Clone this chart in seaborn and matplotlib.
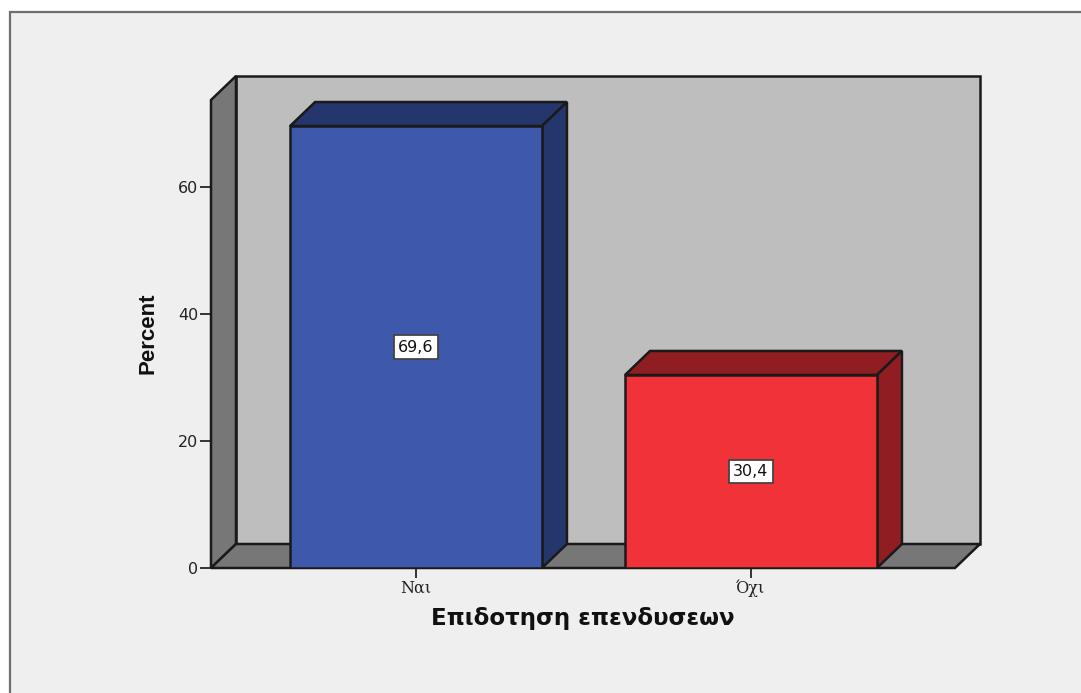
import matplotlib
matplotlib.use("Agg")
import matplotlib.pyplot as plt
from matplotlib.patches import Rectangle
import seaborn as sns

# Data
categories = ["Ναι", "Όχι"]
percent = [69.6, 30.4]
y_ticks = [0, 20, 40, 60]

front_colors = ["#3e58ab", "#f23239"]
dark_colors = ["#24366b", "#8f1d22"]
edge = "#1a1a1a"
W, H = 1081, 693

sns.set_theme(style="white")
plt.rcParams["font.family"] = ["DejaVu Sans"]

fig = plt.figure(figsize=(W / 100, H / 100), dpi=100, facecolor="white")
# grey panel with border, runs off the right and bottom edge
fig.add_artist(Rectangle((10 / W, -0.02), 1.02, 1.02 - 12 / H, transform=fig.transFigure,
                         facecolor="#efefef", edgecolor="#6e6e6e", linewidth=1.6, zorder=-1))

ax = fig.add_axes([211 / W, 1 - 568 / H, (955 - 211) / W, (568 - 100) / H])
ax.patch.set_visible(False)

sns.barplot(x=categories, y=percent, hue=categories, palette=front_colors, legend=False,
            width=0.752, edgecolor=edge, linewidth=1.8, saturation=1, ax=ax, zorder=3)

ax.set_xlim(-0.612, 1.609)
ax.set_ylim(0, 73.7)

# 3D depth in data units (25 px across, 24 px up)
x0, x1 = ax.get_xlim()
y0, y1 = ax.get_ylim()
px_x = (x1 - x0) / (955 - 211)
px_y = (y1 - y0) / (568 - 100)
dx, dy = 25 * px_x, 24 * px_y


def poly(xs, ys, color, z):
    ax.fill(xs, ys, facecolor=color, edgecolor=edge, linewidth=1.8, clip_on=False,
            zorder=z, joinstyle="miter")


poly([x0 + dx, x1 + dx, x1 + dx, x0 + dx], [y0 + dy, y0 + dy, y1 + dy, y1 + dy], "#bebebe", 0.5)
poly([x0, x0 + dx, x0 + dx, x0], [y0, y0 + dy, y1 + dy, y1], "#777777", 0.6)
poly([x0, x0 + dx, x1 + dx, x1], [y0, y0 + dy, y0 + dy, y0], "#777777", 0.6)

for bar, val, dark in zip(ax.patches, percent, dark_colors):
    l, r = bar.get_x(), bar.get_x() + bar.get_width()
    poly([l, l + dx, r + dx, r], [val, val + dy, val + dy, val], dark, 2)
    poly([r, r + dx, r + dx, r], [0, dy, val + dy, val], dark, 2)
    ax.text((l + r) / 2, val / 2, f"{val:.1f}".replace(".", ","), ha="center", va="center",
            fontsize=11.5, color="#111111", zorder=5,
            bbox=dict(boxstyle="square,pad=0.26", facecolor="white", edgecolor="#444444", linewidth=1.3))

sns.despine(ax=ax, left=True, bottom=True, top=True, right=True)
ax.set_yticks(y_ticks)
ax.tick_params(axis="y", left=True, length=8, width=1.4, color="#333333", labelsize=11.5,
               labelcolor="#222222", pad=1)
ax.tick_params(axis="x", bottom=True, length=7, width=1.4, color="#333333", pad=1.5)
for lab in ax.get_xticklabels():
    lab.set_family("DejaVu Serif")
    lab.set_fontsize(11.5)
    lab.set_color("#222222")

ax.set_xlabel("")
ax.set_ylabel("")
fig.text(582.5 / W, 1 - 618 / H, "Επιδοτηση επενδυσεων", ha="center", va="center",
         fontsize=16.5, fontweight="bold", color="#111111")
fig.text(148 / W, 1 - 333 / H, "Percent", ha="center", va="center", rotation=90,
         fontsize=16, fontweight="bold", color="#111111", family="Liberation Sans")

fig.savefig("out.png", dpi=100)
